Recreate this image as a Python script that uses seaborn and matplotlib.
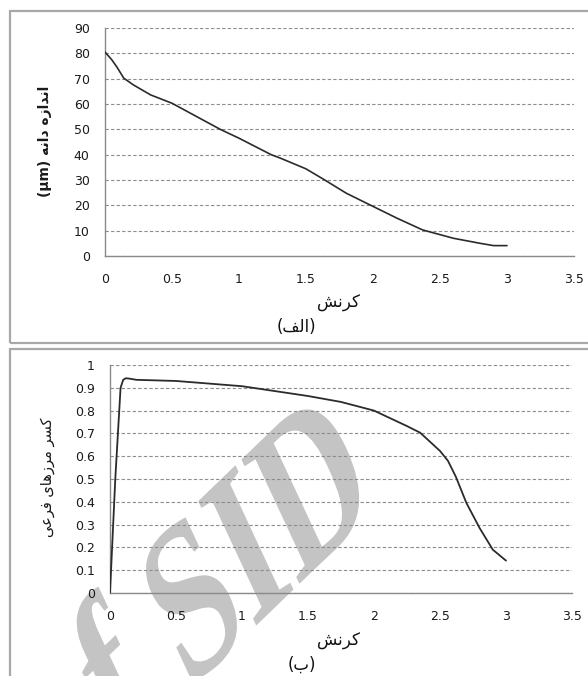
import matplotlib
matplotlib.use("Agg")
import matplotlib.pyplot as plt
from matplotlib.patches import Rectangle
from matplotlib.patheffects import AbstractPathEffect
from matplotlib.transforms import Affine2D
import seaborn as sns
import pandas as pd

# Panel (a): grain size vs strain
strain_a = [0.0, 0.05, 0.09, 0.14, 0.21, 0.34, 0.5, 0.86, 1.0, 1.24, 1.31, 1.5, 1.64,
            1.8, 1.98, 2.18, 2.37, 2.6, 2.8, 2.9, 3.0]
grain_size = [80.5, 77.5, 74.5, 70.2, 67.6, 63.6, 60.3, 50.0, 46.5, 40.0, 38.6, 34.4, 30.0,
              24.8, 20.1, 14.9, 10.3, 7.0, 5.0, 4.1, 4.1]

# Panel (b): sub-boundary fraction vs strain
strain_b = [0.0, 0.04, 0.08, 0.1, 0.12, 0.15, 0.2, 0.5, 1.0, 1.5, 1.75, 2.0, 2.25, 2.35,
            2.5, 2.56, 2.62, 2.7, 2.8, 2.9, 3.0]
sub_fraction = [0.0, 0.5, 0.9, 0.935, 0.942, 0.94, 0.935, 0.93, 0.907, 0.864, 0.838, 0.80,
                0.732, 0.703, 0.623, 0.58, 0.51, 0.395, 0.285, 0.19, 0.142]

x_ticks = [0, 0.5, 1, 1.5, 2, 2.5, 3, 3.5]
x_ticklabels = ["0", "0.5", "1", "1.5", "2", "2.5", "3", "3.5"]
ya_ticks = [0, 10, 20, 30, 40, 50, 60, 70, 80, 90]
yb_ticks = [0, 0.1, 0.2, 0.3, 0.4, 0.5, 0.6, 0.7, 0.8, 0.9, 1]
yb_ticklabels = ["0", "0.1", "0.2", "0.3", "0.4", "0.5", "0.6", "0.7", "0.8", "0.9", "1"]

label_x = "کرنش"
label_ya = "اندازه دانه"
unit_ya = "(μm)"
label_yb = "کسر مرزهای فرعی"
caption_a = "(الف)"
caption_b = "(ب)"
watermark_words = ["of", "SID"]

sns.set_style("white")
plt.rcParams["font.family"] = ["DejaVu Sans"]

# Contextual forms (isolated, final, initial, medial) for the letters used
FORMS = {
    "ا": ("\uFE8D", "\uFE8E", None, None),
    "د": ("\uFEA9", "\uFEAA", None, None),
    "ر": ("\uFEAD", "\uFEAE", None, None),
    "ز": ("\uFEAF", "\uFEB0", None, None),
    "ب": ("\uFE8F", "\uFE90", "\uFE91", "\uFE92"),
    "ن": ("\uFEE5", "\uFEE6", "\uFEE7", "\uFEE8"),
    "ه": ("\uFEE9", "\uFEEA", "\uFEEB", "\uFEEC"),
    "س": ("\uFEB1", "\uFEB2", "\uFEB3", "\uFEB4"),
    "ش": ("\uFEB5", "\uFEB6", "\uFEB7", "\uFEB8"),
    "ع": ("\uFEC9", "\uFECA", "\uFECB", "\uFECC"),
    "ف": ("\uFED1", "\uFED2", "\uFED3", "\uFED4"),
    "ل": ("\uFEDD", "\uFEDE", "\uFEDF", "\uFEE0"),
    "م": ("\uFEE1", "\uFEE2", "\uFEE3", "\uFEE4"),
    "ک": ("\uFB8E", "\uFB8F", "\uFB90", "\uFB91"),
    "ی": ("\uFBFC", "\uFBFD", "\uFBFE", "\uFBFF"),
}
RIGHT_JOINING = set("ادذرزژو")
MIRROR = {"(": ")", ")": "("}


def shape(text):
    """Join Persian letters and put them in visual (left-to-right) order."""
    out = []
    for i, c in enumerate(text):
        if c not in FORMS:
            out.append(MIRROR.get(c, c))
            continue
        prev = text[i - 1] if i > 0 else None
        nxt = text[i + 1] if i + 1 < len(text) else None
        join_prev = prev in FORMS and prev not in RIGHT_JOINING
        join_next = nxt in FORMS and c not in RIGHT_JOINING
        iso, fin, ini, med = FORMS[c]
        if join_prev and join_next:
            out.append(med)
        elif join_prev:
            out.append(fin)
        elif join_next:
            out.append(ini)
        else:
            out.append(iso)
    return "".join(reversed(out))


class LinearWarp(AbstractPathEffect):
    """Apply a linear map (about a pivot in display pixels) to the drawn glyphs."""

    def __init__(self, pivot, a, b, c, d):
        super().__init__()
        px, py = pivot
        self._extra = (Affine2D().translate(-px, -py)
                       + Affine2D.from_values(a, b, c, d, 0, 0)
                       + Affine2D().translate(px, py))

    def draw_path(self, renderer, gc, tpath, affine, rgbFace=None):
        renderer.draw_path(gc, tpath, affine + self._extra, rgbFace)


W, H = 588, 676
fig = plt.figure(figsize=(W / 100, H / 100), dpi=100)


def frac_box(x0, y0, x1, y1):
    return [x0 / W, 1 - y1 / H, (x1 - x0) / W, (y1 - y0) / H]


# Panel frames
for (x0, y0, x1, y1) in [(10, 11, 620, 343), (10, 349, 620, 700)]:
    fig.patches.append(Rectangle((x0 / W, 1 - y1 / H), (x1 - x0) / W, (y1 - y0) / H,
                                 transform=fig.transFigure, fill=False,
                                 edgecolor="#a8a8a8", linewidth=1.6, zorder=0))

ax_a = fig.add_axes(frac_box(105, 28, 574, 256))
ax_b = fig.add_axes(frac_box(110, 365, 572, 593))

grid_kw = dict(color="#8c8c8c", linestyle=(0, (3, 2)), linewidth=0.8)
tick_color = "#1a1a1a"

for ax in (ax_a, ax_b):
    ax.set_axisbelow("line")
    ax.yaxis.grid(True, **grid_kw)
    ax.xaxis.grid(False)
    for s in ("top", "right"):
        ax.spines[s].set_visible(False)
    for s in ("left", "bottom"):
        ax.spines[s].set_color("#8a8a8a")
        ax.spines[s].set_linewidth(1.0)
    ax.tick_params(axis="both", which="major", direction="out", length=4,
                   width=0.9, color="#8a8a8a", labelsize=9, labelcolor=tick_color)
    ax.tick_params(axis="x", pad=8)
    ax.tick_params(axis="y", pad=7)
    ax.set_xlim(0, 3.5)
    ax.set_xticks(x_ticks)
    ax.set_xticklabels(x_ticklabels)

df_a = pd.DataFrame({"strain": strain_a, "size": grain_size})
df_b = pd.DataFrame({"strain": strain_b, "frac": sub_fraction})

sns.lineplot(data=df_a, x="strain", y="size", ax=ax_a, color="#2b2b2b",
             linewidth=1.2, sort=False, zorder=3)
sns.lineplot(data=df_b, x="strain", y="frac", ax=ax_b, color="#2b2b2b",
             linewidth=1.3, sort=False, zorder=3)

ax_a.set_ylim(0, 90)
ax_a.set_yticks(ya_ticks)
ax_b.set_ylim(0, 1)
ax_b.set_yticks(yb_ticks)
ax_b.set_yticklabels(yb_ticklabels)
for ax in (ax_a, ax_b):
    ax.set_xlabel("")
    ax.set_ylabel("")

# Axis titles (Persian)
fig.text(45 / W, 1 - 141 / H, unit_ya + " " + shape(label_ya), rotation=90,
         ha="center", va="center", fontsize=10, fontweight="bold", color="#1a1a1a")
fig.text(48 / W, 1 - 477 / H, shape(label_yb), rotation=90,
         ha="center", va="center", fontsize=10.5, color="#1a1a1a")

fig.text(338 / W, 1 - 303 / H, shape(label_x), ha="center", va="center",
         fontsize=12, color="#111111")
fig.text(296 / W, 1 - 327 / H, shape(caption_a), ha="center", va="center",
         fontsize=12, color="#111111")
fig.text(338 / W, 1 - 641 / H, shape(label_x), ha="center", va="center",
         fontsize=12, color="#111111")
fig.text(302 / W, 1 - 665 / H, shape(caption_b), ha="center", va="center",
         fontsize=12, color="#111111")

# Publisher watermark across the lower panel: the words run up at 44 degrees,
# with the glyphs sheared and stretched on top of that rotation.
wm_angle = 44
wm_size = 116
wm_em = wm_size * 100 / 72
wm_end = (381, 505)            # right end of the last word, in pixels from top-left
word_gap = [0.0, 1.917 * wm_em]  # distance back along the baseline to each word's end
shear = (0.899, -0.319, 0.104, 1.330)
for word, back in zip(reversed(watermark_words), word_gap):
    ex = wm_end[0] - back * 0.719
    ey = wm_end[1] + back * 0.695
    warp = LinearWarp((ex, H - ey), *shear)
    ax_b.text(ex / W, 1 - ey / H, word, transform=fig.transFigure,
              rotation=wm_angle, rotation_mode="anchor",
              ha="right", va="baseline", fontsize=wm_size, fontweight="bold",
              family="Liberation Serif", color="#c4c4c4", clip_on=False, zorder=1,
              path_effects=[warp])

fig.savefig("out.png", dpi=100)
